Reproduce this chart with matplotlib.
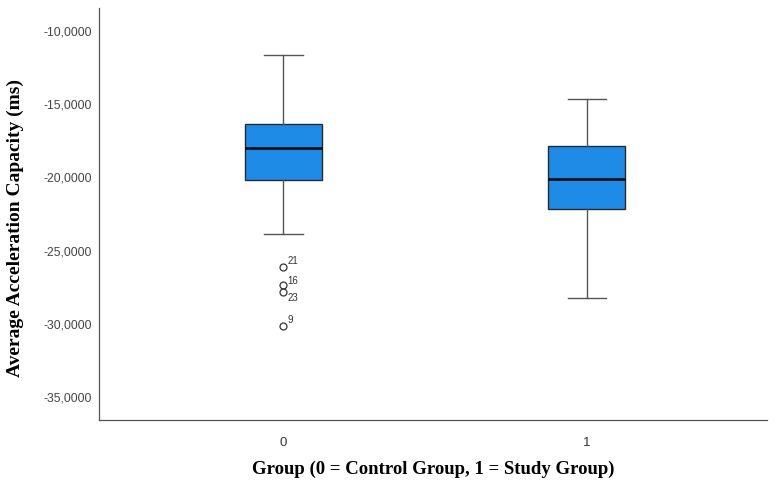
import matplotlib.pyplot as plt

# group stats
groups = [0, 1]
whisker_high = [-11.66, -14.64]
q3 = [-16.37, -17.83]
medians = [-18.01, -20.14]
q1 = [-20.16, -22.14]
whisker_low = [-23.90, -28.24]
outliers_g0 = [-26.14, -27.35, -27.86, -30.16]
outlier_ids = ["21", "16", "23", "9"]
yticks = [-10, -15, -20, -25, -30, -35]

stats = []
for i in range(len(groups)):
    stats.append({
        "med": medians[i], "q1": q1[i], "q3": q3[i],
        "whislo": whisker_low[i], "whishi": whisker_high[i],
        "fliers": outliers_g0 if i == 0 else [],
    })

fig = plt.figure(figsize=(7.84, 4.86), dpi=100)
ax = fig.add_axes([0.1263, 0.1358, 0.978 - 0.1263, 0.9835 - 0.1358])

ax.bxp(
    stats, positions=groups, widths=0.254, patch_artist=True,
    boxprops=dict(facecolor="#1e8ce6", edgecolor="#2a2a2a", linewidth=1.0),
    medianprops=dict(color="black", linewidth=1.8),
    whiskerprops=dict(color="#555555", linewidth=1.0),
    capprops=dict(color="#555555", linewidth=1.0),
    capwidths=0.127,
    flierprops=dict(marker="o", markersize=5, markerfacecolor="none",
                    markeredgecolor="#333333", markeredgewidth=0.9),
)

# case numbers next to the outliers; "23" sits below-right like the original
offsets = [(3, 2), (3, 1), (3, -6), (3, 2)]
for val, lab, off in zip(outliers_g0, outlier_ids, offsets):
    ax.annotate(lab, (groups[0], val), xytext=off, textcoords="offset points",
                fontsize=7, family="Liberation Sans", color="#333333")

ax.set_xlim(-0.608, 1.593)
ax.set_ylim(-36.58, -8.43)
ax.set_xticks(groups)
ax.set_xticklabels([str(g) for g in groups], family="Liberation Sans", fontsize=9.5,
                   color="#333333")
ax.set_yticks(yticks)
ax.set_yticklabels([f"{t:.4f}".replace(".", ",") for t in yticks],
                   family="Liberation Sans", fontsize=8.8, color="#444444")
ax.tick_params(axis="x", length=0, pad=12)
ax.tick_params(axis="y", length=0, pad=5)

for side in ["top", "right"]:
    ax.spines[side].set_visible(False)
for side in ["left", "bottom"]:
    ax.spines[side].set_color("#555555")
    ax.spines[side].set_linewidth(0.9)

ax.set_ylabel("Average Acceleration Capacity (ms)", family="Liberation Serif",
              fontweight="bold", fontsize=14)
ax.yaxis.set_label_coords(-0.112, 0.465)
ax.set_xlabel("Group (0 = Control Group, 1 = Study Group)", family="Liberation Serif",
              fontweight="bold", fontsize=13.5, labelpad=9)

fig.savefig("out.png", dpi=100)
